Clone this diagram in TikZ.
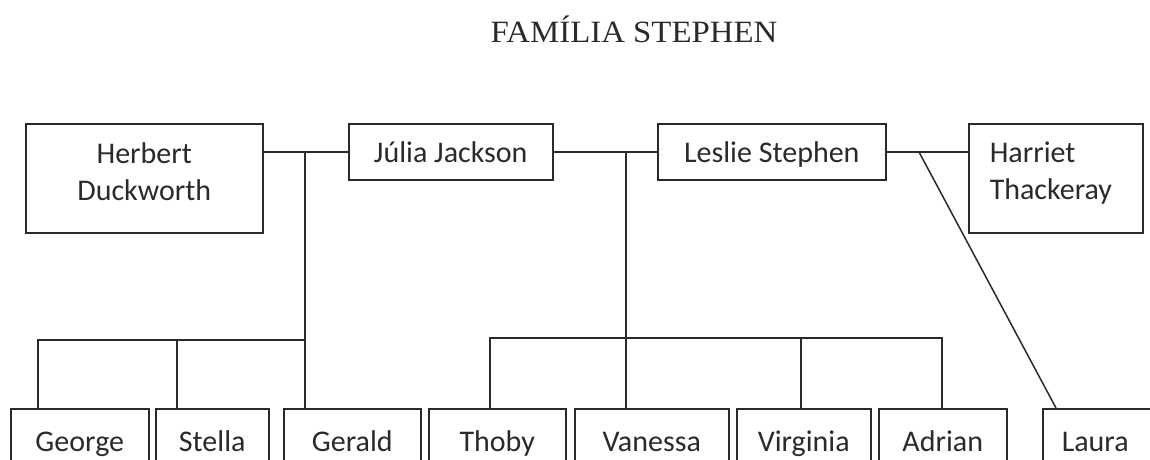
\documentclass[tikz,border=0pt]{standalone}
\usepackage{fontspec}
\setmainfont{Carlito}
\newfontfamily\titlefont[FakeStretch=1.06]{Liberation Serif}
\usetikzlibrary{calc}
\definecolor{ink}{HTML}{2A2A2A}
\begin{document}
\begin{tikzpicture}[x=1pt,y=-1pt,
  person/.style={draw=ink, line width=1.5pt, inner sep=0pt, text=ink,
    font=\fontsize{30}{37}\selectfont, align=center},
  single/.style={person, anchor=north west, minimum height=56pt, text height=21pt, text depth=0pt},
  kid/.style={person, anchor=north west, minimum height=65pt, text height=21pt, text depth=0pt},
  conn/.style={draw=ink, line width=1.5pt}]
\useasboundingbox (0,0) rectangle (1150,460);
\clip (0,0) rectangle (1150,460);
% title
\node[font=\titlefont\fontsize{31}{36}\selectfont, text=ink, anchor=base] (title) at (634,42) {FAMÍLIA STEPHEN};
% parents
\node[person, anchor=north west, minimum width=237pt, minimum height=109pt, text depth=13pt] (herbert) at (25,123) {Herbert\\Duckworth};
\node[single, minimum width=204pt] (julia) at (348,123) {Júlia Jackson};
\node[single, minimum width=228pt] (leslie) at (657,123) {Leslie Stephen};
\node[person, anchor=north west, text width=132pt, inner xsep=21pt, minimum height=109pt, align=left, text depth=53pt] (harriet) at (968,123) {Harriet\\Thackeray};
% children
\node[kid, minimum width=138pt] (george) at (10,408) {George};
\node[kid, minimum width=113pt] (stella) at (155,408) {Stella};
\node[kid, minimum width=137pt] (gerald) at (283,408) {Gerald};
\node[kid, minimum width=137pt] (thoby) at (428,408) {Thoby};
\node[kid, minimum width=154pt] (vanessa) at (574,408) {Vanessa};
\node[kid, minimum width=134pt] (virginia) at (736,408) {Virginia};
\node[kid, minimum width=128pt] (adrian) at (878,408) {Adrian};
\node[kid, text width=90pt, inner xsep=19pt, align=left] (laura) at (1042,408) {Laura};
% junction points
\coordinate (hj) at (305,152);
\coordinate (lbL) at (38,340);
\coordinate (lbS) at (177,340);
\coordinate (lbR) at (305,340);
\coordinate (jl) at (626,152);
\coordinate (rbL) at (490,338);
\coordinate (rbV) at (801,338);
\coordinate (rbR) at (942,338);
\coordinate (lh) at (919,152);
% marriage lines
\draw[conn] (herbert.east |- julia.west) -- (julia.west);
\draw[conn] (julia.east) -- (leslie.west);
\draw[conn] (leslie.east) -- (harriet.west |- leslie.east);
% Duckworth children
\draw[conn] (hj) -- (lbR) -- (lbR |- gerald.north);
\draw[conn] (lbL |- george.north) -- (lbL) -- (lbR);
\draw[conn] (lbS) -- (lbS |- stella.north);
% Stephen children
\draw[conn] (jl) -- (jl |- vanessa.north);
\draw[conn] (rbL |- thoby.north) -- (rbL) -- (rbR) -- (rbR |- adrian.north);
\draw[conn] (rbV) -- (rbV |- virginia.north);
% Laura
\draw[conn] (lh) -- ($(laura.north west)+(14,0)$);
\end{tikzpicture}
\end{document}
